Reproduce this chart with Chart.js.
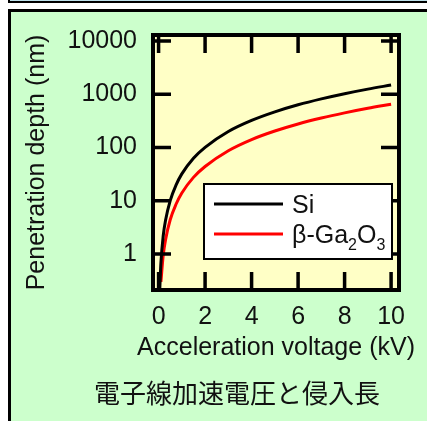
<!DOCTYPE html>
<html>
<head>
<meta charset="utf-8">
<script src="https://cdn.jsdelivr.net/npm/chart.js@4.4.1/dist/chart.umd.min.js"></script>
<style>
  html, body { margin: 0; padding: 0; background: #fff; }
  body { width: 427px; height: 421px; position: relative; overflow: hidden; }
  #strip { position: absolute; left: 8px; top: -7px; width: 430px; height: 6px; background: #bde0ea; border: 2px solid #000; }
  #panel { position: absolute; left: 8px; top: 9px; width: 430px; height: 420px; background: #ccffcc; border-left: 3px solid #000; border-top: 3px solid #000; }
  #wrap { position: absolute; left: 0; top: 0; width: 427px; height: 421px; }
</style>
</head>
<body>
<div id="strip"></div>
<div id="panel"></div>
<div id="wrap"><canvas id="chart" width="427" height="421"></canvas></div>
<script>
// acceleration voltage (kV) and penetration depth (nm)
const voltage = [0.05, 0.1, 0.2, 0.3, 0.5, 0.75, 1, 1.5, 2, 3, 4, 5, 6, 7, 8, 9, 10];
const siDepth = [0.21, 0.68, 2.2, 4.3, 10.1, 19.7, 32, 63, 101, 200, 323, 468, 635, 820, 1025, 1250, 1490];
const gaDepth = [null, 0.30, 0.95, 1.86, 4.4, 8.6, 14, 27.5, 44, 87, 141, 204, 277, 358, 447, 545, 650];

const xTicks = [0, 2, 4, 6, 8, 10];
const yTicks = [1, 10, 100, 1000, 10000];

const seriesLabels = ["Si", "β-Ga2O3"];
const xTitle = "Acceleration voltage (kV)";
const yTitle = "Penetration depth (nm)";
const caption = "電子線加速電圧と侵入長";

const FONT = "'Liberation Sans', Arial, sans-serif";
const INK = "#111";

function points(ys) {
  return voltage.map((v, i) => ({ x: v, y: ys[i] })).filter(p => p.y !== null);
}

// digits after letters are drawn as subscripts (Ga2O3)
function drawLabel(ctx, text, x, y) {
  const parts = text.split(/(\d+)/);
  let cx = x;
  parts.forEach((part, i) => {
    if (!part) return;
    const sub = i % 2 === 1;
    ctx.font = (sub ? "16px " : "25px ") + FONT;
    ctx.fillStyle = INK;
    ctx.textBaseline = "alphabetic";
    ctx.textAlign = "left";
    ctx.fillText(part, cx, y + 9 + (sub ? 7 : 0));
    cx += ctx.measureText(part).width;
  });
}

const plotBackground = {
  id: "plotBackground",
  beforeDraw(chart) {
    const { ctx, chartArea: a } = chart;
    ctx.save();
    ctx.fillStyle = "#ffffc6";
    ctx.fillRect(a.left, a.top, a.right - a.left, a.bottom - a.top);
    ctx.restore();
  }
};

const frameTicks = {
  id: "frameTicks",
  afterDatasetsDraw(chart) {
    const { ctx, chartArea: a, scales } = chart;
    const len = 18;
    ctx.save();
    ctx.strokeStyle = "#000";
    ctx.lineWidth = 3.5;
    ctx.beginPath();
    xTicks.forEach(v => {
      const px = scales.x.getPixelForValue(v);
      ctx.moveTo(px, a.bottom); ctx.lineTo(px, a.bottom - len);
      ctx.moveTo(px, a.top); ctx.lineTo(px, a.top + len);
    });
    yTicks.forEach(v => {
      const py = scales.y.getPixelForValue(v);
      ctx.moveTo(a.left, py); ctx.lineTo(a.left + len, py);
      ctx.moveTo(a.right, py); ctx.lineTo(a.right - len, py);
    });
    ctx.stroke();
    ctx.lineWidth = 4;
    ctx.strokeRect(a.left, a.top, a.right - a.left, a.bottom - a.top);
    ctx.restore();
  }
};

// axis titles and caption, drawn without the maxWidth squeeze
const titles = {
  id: "titles",
  afterDraw(chart) {
    const { ctx, chartArea: a } = chart;
    ctx.save();
    ctx.fillStyle = INK;
    ctx.textAlign = "center";
    ctx.textBaseline = "middle";
    ctx.font = "25px " + FONT;
    ctx.fillText(xTitle, (a.left + a.right) / 2, a.bottom + 58);
    ctx.save();
    ctx.translate(37, (a.top + a.bottom) / 2);
    ctx.rotate(-Math.PI / 2);
    ctx.fillText(yTitle, 0, 0);
    ctx.restore();
    ctx.font = "26px 'Noto Sans CJK JP', sans-serif";
    ctx.fillText(caption, 237, a.bottom + 103);
    ctx.restore();
  }
};

const boxLegend = {
  id: "boxLegend",
  afterDraw(chart) {
    const { ctx, chartArea: a } = chart;
    const x0 = a.left + 51, y0 = a.top + 149, w = 188, h = 75;
    ctx.save();
    ctx.fillStyle = "#fff";
    ctx.fillRect(x0, y0, w, h);
    ctx.lineWidth = 2;
    ctx.strokeStyle = "#000";
    ctx.strokeRect(x0, y0, w, h);
    chart.data.datasets.forEach((ds, i) => {
      const y = y0 + 20 + i * 30;
      ctx.strokeStyle = ds.borderColor;
      ctx.lineWidth = 3;
      ctx.beginPath();
      ctx.moveTo(x0 + 10, y);
      ctx.lineTo(x0 + 79, y);
      ctx.stroke();
      drawLabel(ctx, ds.label, x0 + 88, y);
    });
    ctx.restore();
  }
};

new Chart(document.getElementById("chart"), {
  type: "line",
  data: {
    datasets: [
      {
        label: seriesLabels[0],
        data: points(siDepth),
        borderColor: "#000000",
        borderWidth: 3,
        pointRadius: 0,
        cubicInterpolationMode: "monotone",
      },
      {
        label: seriesLabels[1],
        data: points(gaDepth),
        borderColor: "#ff0000",
        borderWidth: 3,
        pointRadius: 0,
        cubicInterpolationMode: "monotone",
      },
    ],
  },
  options: {
    responsive: false,
    animation: false,
    devicePixelRatio: 1,
    layout: { padding: { left: 0, top: 35, right: 28, bottom: 50 } },
    plugins: {
      legend: { display: false },
      tooltip: { enabled: false },
    },
    scales: {
      x: {
        type: "linear",
        min: -0.24,
        max: 10.34,
        bounds: "data",
        afterBuildTicks: (s) => { s.ticks = xTicks.map(v => ({ value: v })); },
        afterFit: (s) => { s.height = 81; },
        grid: { display: false, drawTicks: false },
        border: { display: false },
        ticks: {
          autoSkip: false,
          maxRotation: 0,
          padding: 12,
          color: INK,
          font: { family: FONT, size: 25 },
        },
      },
      y: {
        type: "logarithmic",
        min: 0.211,
        max: 12980,
        bounds: "data",
        afterBuildTicks: (s) => { s.ticks = yTicks.map(v => ({ value: v })); },
        afterFit: (s) => { s.width = 153; },
        grid: { display: false, drawTicks: false },
        border: { display: false },
        ticks: {
          autoSkip: false,
          padding: 16,
          color: INK,
          font: { family: FONT, size: 25 },
          callback: (v) => String(v),
        },
      },
    },
  },
  plugins: [plotBackground, frameTicks, titles, boxLegend],
});
</script>
</body>
</html>
